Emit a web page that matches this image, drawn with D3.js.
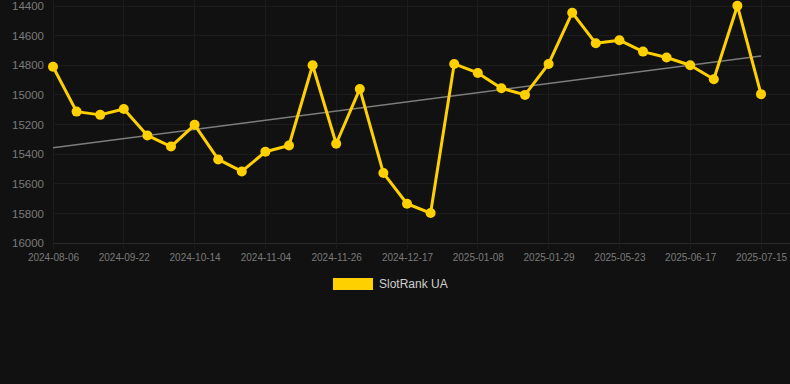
<!DOCTYPE html>
<html>
<head>
<meta charset="utf-8">
<script src="https://cdn.jsdelivr.net/npm/d3@7"></script>
<style>
    html, body { margin: 0; padding: 0; background: #111111; }
    #chart { width: 790px; height: 384px; }
    text { font-family: "Liberation Sans", Arial, sans-serif; }
</style>
</head>
<body>
<div id="chart"></div>
<script>

// categories (only every 3rd one gets a label on the axis)
const dates = [
    '2024-08-06', '2024-08-20', '2024-09-05', '2024-09-22', '2024-09-29', '2024-10-07',
    '2024-10-14', '2024-10-21', '2024-10-28', '2024-11-04', '2024-11-11', '2024-11-19',
    '2024-11-26', '2024-12-03', '2024-12-10', '2024-12-17', '2024-12-24', '2025-01-01',
    '2025-01-08', '2025-01-15', '2025-01-22', '2025-01-29', '2025-02-12', '2025-05-16',
    '2025-05-23', '2025-05-30', '2025-06-09', '2025-06-17', '2025-06-24', '2025-07-08',
    '2025-07-15'
];

// rank values
const rankUA = [
    14810, 15113, 15135, 15095, 15274, 15349, 15202, 15436, 15517, 15384, 15342,
    14800, 15330, 14960, 15528, 15735, 15798, 14791, 14852, 14955, 15000, 14791,
    14445, 14652, 14631, 14708, 14748, 14800, 14894, 14398, 14995
];

const yTicks = [14400, 14600, 14800, 15000, 15200, 15400, 15600, 15800, 16000];
const seriesName = 'SlotRank UA';

const width = 790;
const height = 384;
const margins = { top: 6, bottom: 141, left: 53, right: 29 };

const lineColor = '#ffd000';
const gridColor = '#1c1c1c';
const labelColor = '#7a7a7a';

// creating svg
const svg = d3.select('#chart')
    .append('svg')
    .attr('width', width)
    .attr('height', height);

svg.append('rect')
    .attr('width', width)
    .attr('height', height)
    .attr('fill', '#111111');

// scales
const xScale = d3.scalePoint()
    .domain(dates)
    .range([margins.left, width - margins.right]);

const yScale = d3.scaleLinear()
    .domain([yTicks[0], yTicks[yTicks.length - 1]])
    .range([margins.top, height - margins.bottom]);

// grid lines
const xTickValues = dates.filter((d, i) => i % 3 === 0);

svg.append('g')
    .selectAll('line')
    .data(yTicks)
    .join('line')
    .attr('x1', margins.left)
    .attr('x2', width)
    .attr('y1', d => yScale(d))
    .attr('y2', d => yScale(d))
    .attr('stroke', (d, i) => i === yTicks.length - 1 ? '#2a2a2a' : gridColor)
    .attr('stroke-width', 1)
    .attr('shape-rendering', 'crispEdges');

svg.append('g')
    .selectAll('line')
    .data(xTickValues)
    .join('line')
    .attr('x1', d => xScale(d))
    .attr('x2', d => xScale(d))
    .attr('y1', 0)
    .attr('y2', yScale(yTicks[yTicks.length - 1]) + 6)
    .attr('stroke', gridColor)
    .attr('stroke-width', 1)
    .attr('shape-rendering', 'crispEdges');

// axes (labels only, grid is drawn above)
const yAxisGroup = svg.append('g')
    .attr('transform', `translate(${margins.left - 9},0)`)
    .call(d3.axisLeft(yScale).tickValues(yTicks).tickSize(0).tickPadding(0).tickFormat(d3.format('d')));

yAxisGroup.select('.domain').remove();
yAxisGroup.selectAll('text')
    .attr('fill', labelColor)
    .style('font-size', '11.5px');

const xAxisGroup = svg.append('g')
    .attr('transform', `translate(0,${height - margins.bottom})`)
    .call(d3.axisBottom(xScale).tickValues(xTickValues).tickSize(0).tickPadding(11));

xAxisGroup.select('.domain').remove();
xAxisGroup.selectAll('text')
    .attr('fill', labelColor)
    .style('font-size', '10px');

// trend line (least squares over the category index)
const n = rankUA.length;
const meanX = d3.mean(rankUA, (d, i) => i);
const meanY = d3.mean(rankUA);
const slope = d3.sum(rankUA, (d, i) => (i - meanX) * (d - meanY)) / d3.sum(rankUA, (d, i) => (i - meanX) * (i - meanX));
const trend = [0, n - 1].map(i => [dates[i], meanY + slope * (i - meanX)]);

svg.append('path')
    .datum(trend)
    .attr('fill', 'none')
    .attr('stroke', '#7d7d7d')
    .attr('stroke-width', 1.5)
    .attr('d', d3.line()
        .x(d => xScale(d[0]))
        .y(d => yScale(d[1])));

// rank line
svg.append('path')
    .datum(rankUA)
    .attr('fill', 'none')
    .attr('stroke', lineColor)
    .attr('stroke-width', 3)
    .attr('stroke-linejoin', 'round')
    .attr('d', d3.line()
        .x((d, i) => xScale(dates[i]))
        .y(d => yScale(d)));

svg.append('g')
    .selectAll('circle')
    .data(rankUA)
    .join('circle')
    .attr('cx', (d, i) => xScale(dates[i]))
    .attr('cy', d => yScale(d))
    .attr('r', 5)
    .attr('fill', lineColor);

// legend
const legendGroup = svg.append('g')
    .attr('transform', 'translate(333,278)');

legendGroup.append('rect')
    .attr('width', 40)
    .attr('height', 12)
    .attr('fill', lineColor);

legendGroup.append('text')
    .attr('x', 46)
    .attr('y', 6)
    .attr('dominant-baseline', 'central')
    .attr('fill', '#cfcfcf')
    .style('font-size', '12px')
    .text(seriesName);

</script>
</body>
</html>
